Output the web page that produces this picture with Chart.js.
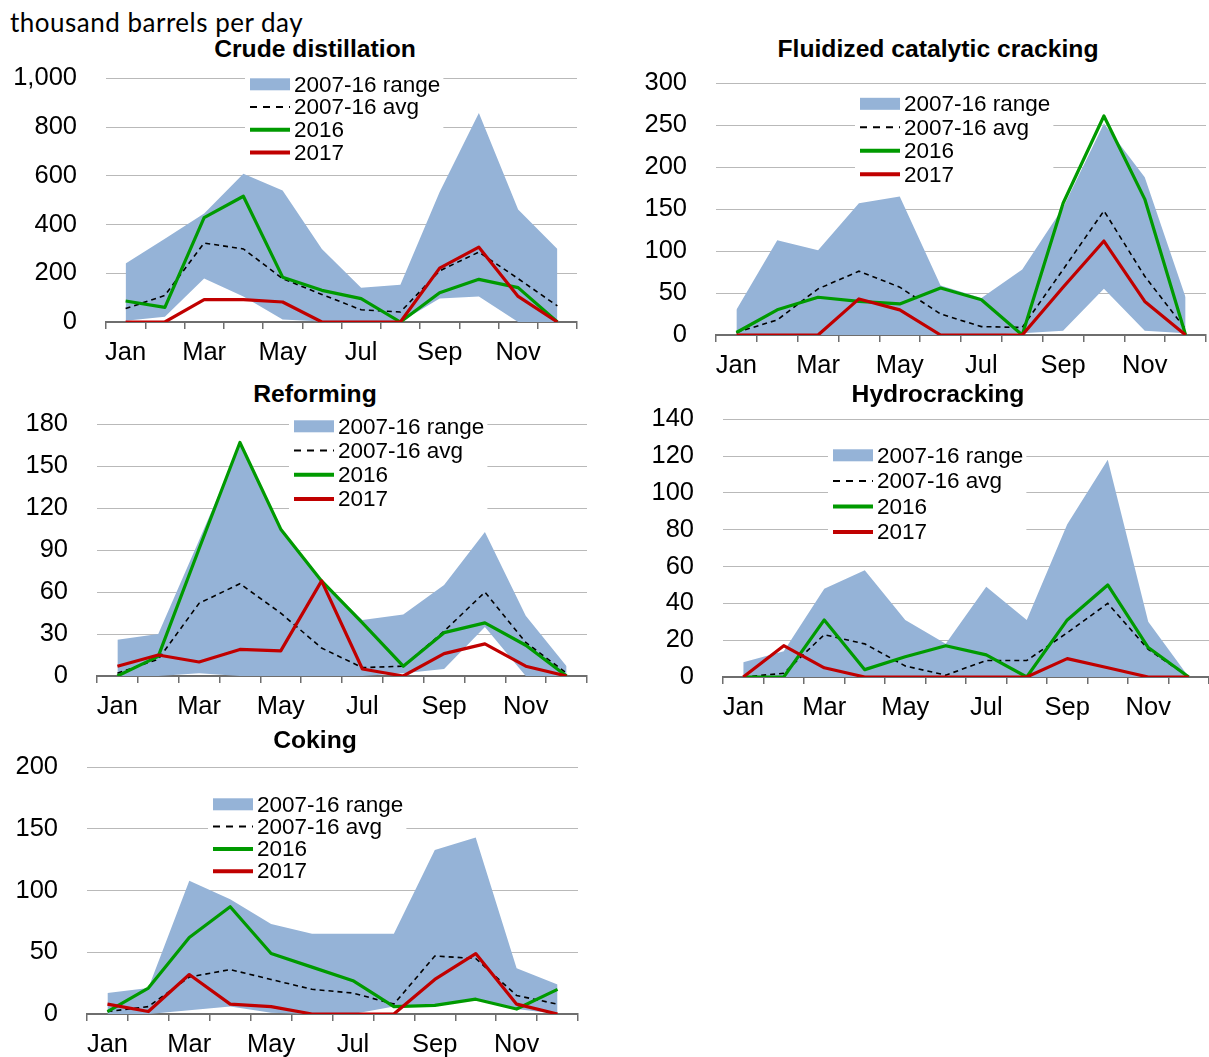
<!DOCTYPE html>
<html>
<head>
<meta charset="utf-8">
<title>Refinery outages</title>
<script src="https://cdn.jsdelivr.net/npm/chart.js@4.4.1/dist/chart.umd.min.js"></script>
<style>
  html, body { margin: 0; padding: 0; background: #fff; overflow: hidden; }
  #page { position: relative; width: 1209px; height: 1057px; overflow: hidden; }
  .unit { position: absolute; left: 10px; top: 6px; font-family: Lato, 'Open Sans', sans-serif; font-size: 26px; letter-spacing: 0.5px; color: #000; white-space: nowrap; line-height: 32px; }
  .title { position: absolute; font-family: 'Liberation Sans', Arial, sans-serif; font-weight: bold; font-size: 24.7px; color: #000; white-space: nowrap; transform: translate(-50%, -50%); line-height: 1; }
  .panel { position: absolute; }
  .panel canvas { display: block; }
</style>
</head>
<body>
<div id="page">
  <div class="unit">thousand barrels per day</div>
</div>
<script>
// Month categories and the visible tick labels
const months = ['Jan', 'Feb', 'Mar', 'Apr', 'May', 'Jun', 'Jul', 'Aug', 'Sep', 'Oct', 'Nov', 'Dec'];
const legendLabels = ['2007-16 range', '2007-16 avg', '2016', '2017'];

// Crude distillation
const crudeLow  = [5, 22, 178, 105, 10, 2, 0, 0, 96, 105, 0, 0];
const crudeHigh = [240, 342, 445, 608, 540, 300, 141, 153, 533, 858, 462, 300];
const crudeAvg  = [55, 109, 324, 300, 178, 113, 50, 41, 210, 287, 178, 66];
const crude2016 = [86, 60, 428, 516, 184, 130, 96, 0, 120, 175, 141, 0];
const crude2017 = [0, 0, 92, 92, 82, 0, 0, 0, 221, 307, 105, 0];
const crudeTicks = [0, 200, 400, 600, 800, 1000];

// Fluidized catalytic cracking
const fccLow  = [0, 0, 0, 0, 0, 0, 0, 2, 5, 55, 5, 2];
const fccHigh = [30, 113, 101, 157, 165, 59, 44, 78, 152, 252, 188, 45];
const fccAvg  = [3, 18, 55, 76, 57, 25, 10, 9, 78, 148, 70, 7];
const fcc2016 = [3, 30, 45, 40, 37, 56, 42, 0, 157, 261, 162, 0];
const fcc2017 = [0, 0, 0, 43, 30, 0, 0, 0, 57, 112, 40, 0];
const fccTicks = [0, 50, 100, 150, 200, 250, 300];

// Reforming
const refLow  = [0, 0, 2, 0, 0, 0, 0, 2, 5, 35, 0, 0];
const refHigh = [26, 30, 97, 165, 105, 68, 40, 44, 65, 103, 43, 7];
const refAvg  = [2, 12, 52, 66, 45, 20, 6, 7, 32, 60, 24, 2];
const ref2016 = [0, 14, 91, 167, 105, 68, 38, 7, 31, 38, 22, 0];
const ref2017 = [7, 15, 10, 19, 18, 68, 5, 0, 16, 23, 7, 0];
const refTicks = [0, 30, 60, 90, 120, 150, 180];

// Hydrocracking
const hydLow  = [0, 0, 0, 0, 0, 0, 0, 0, 0, 0, 0, 0];
const hydHigh = [8, 14, 48, 58, 31, 18, 49, 31, 83, 118, 30, 0];
const hydAvg  = [0, 2, 23, 18, 6, 1, 9, 9, 24, 40, 15, 0];
const hyd2016 = [0, 0, 31, 4, 11, 17, 12, 0, 31, 50, 16, 0];
const hyd2017 = [0, 17, 5, 0, 0, 0, 0, 0, 10, 5, 0, 0];
const hydTicks = [0, 20, 40, 60, 80, 100, 120, 140];

// Coking
const cokLow  = [0, 0, 3, 6, 1, 0, 0, 6, 7, 12, 4, 0];
const cokHigh = [17, 21, 108, 93, 73, 65, 65, 65, 133, 143, 37, 24];
const cokAvg  = [2, 6, 30, 36, 28, 20, 17, 8, 47, 45, 15, 8];
const cok2016 = [2, 21, 62, 87, 49, 38, 27, 6, 7, 12, 4, 20];
const cok2017 = [8, 2, 32, 8, 6, 0, 0, 0, 28, 49, 8, 0];
const cokTicks = [0, 50, 100, 150, 200];

const FONT = "'Liberation Sans', Arial, Helvetica, sans-serif";
const BAND = '#95B3D7';
const GREEN = '#009A00';
const RED = '#C00000';
const GRID = '#B9B9B9';
const AXIS = '#6E6E6E';
const TICK_SIZE = 25.5;
const LEGEND_SIZE = 22.5;

Chart.defaults.font.family = FONT;
Chart.defaults.color = '#000';
Chart.defaults.animation = false;

// Legend drawn inside the plot on a white box (covers the gridlines behind it)
const boxLegend = {
  id: 'boxLegend',
  beforeDatasetsDraw(chart, args, o) {
    const ctx = chart.ctx;
    const area = chart.chartArea;
    const x0 = area.left + o.dx;
    const y0 = area.top + o.dy;
    const items = chart.data.datasets.filter(d => d.label);
    ctx.save();
    ctx.font = o.size + 'px ' + FONT;
    const textX = x0 + o.swatchW + o.gap;
    let maxW = 0;
    items.forEach(d => { maxW = Math.max(maxW, ctx.measureText(d.label).width); });
    const top = y0 - o.step / 2 - 2;
    const bottom = y0 + o.step * (items.length - 0.5) + 3;
    ctx.fillStyle = '#fff';
    ctx.fillRect(x0 - 5, top, textX + maxW + 3 - (x0 - 5), bottom - top);
    items.forEach((d, i) => {
      const cy = y0 + i * o.step;
      if (d.fill) {
        ctx.fillStyle = d.backgroundColor;
        ctx.fillRect(x0, cy - 6, o.swatchW, 12);
      } else {
        ctx.strokeStyle = d.borderColor;
        ctx.lineWidth = d.borderDash ? 2 : 4;
        ctx.setLineDash(d.borderDash ? [7, 6] : []);
        ctx.beginPath();
        ctx.moveTo(x0, cy);
        ctx.lineTo(x0 + o.swatchW, cy);
        ctx.stroke();
        ctx.setLineDash([]);
      }
      ctx.fillStyle = '#000';
      ctx.textAlign = 'left';
      ctx.textBaseline = 'middle';
      ctx.fillText(d.label, textX, cy + 1);
    });
    ctx.restore();
  }
};

function makePanel(p) {
  const yW = 100, xH = 52, padT = 18, padR = 3;
  const plotW = p.right - p.left;
  const plotH = p.bottom - p.top;
  const W = yW + plotW + padR;
  const H = padT + plotH + xH;

  const page = document.getElementById('page');
  const t = document.createElement('div');
  t.className = 'title';
  t.textContent = p.title;
  t.style.left = p.titleX + 'px';
  t.style.top = p.titleY + 'px';
  page.appendChild(t);

  const wrap = document.createElement('div');
  wrap.className = 'panel';
  const cv = document.createElement('canvas');
  cv.width = W; cv.height = H;
  wrap.appendChild(cv);
  page.appendChild(wrap);

  const yMax = p.ticks[p.ticks.length - 1];
  const step = p.ticks[1] - p.ticks[0];

  const chart = new Chart(cv, {
    type: 'line',
    data: {
      labels: months,
      datasets: [
        { data: p.low, borderWidth: 0, borderColor: 'rgba(0,0,0,0)', pointRadius: 0, fill: false, order: 5 },
        { label: legendLabels[0], data: p.high, borderWidth: 0, borderColor: 'rgba(0,0,0,0)', backgroundColor: BAND, pointRadius: 0, fill: '-1', order: 4 },
        { label: legendLabels[1], data: p.avg, borderColor: '#000', borderWidth: 1.6, borderDash: [5, 4], pointRadius: 0, fill: false, order: 3 },
        { label: legendLabels[2], data: p.y2016, borderColor: GREEN, borderWidth: 3.2, borderJoinStyle: 'round', pointRadius: 0, fill: false, order: 2 },
        { label: legendLabels[3], data: p.y2017, borderColor: RED, borderWidth: 3.2, borderJoinStyle: 'round', pointRadius: 0, fill: false, order: 1 }
      ]
    },
    options: {
      responsive: false,
      maintainAspectRatio: false,
      devicePixelRatio: 1,
      events: [],
      layout: { padding: { top: padT, right: padR, left: 0, bottom: 0 } },
      elements: { line: { tension: 0 } },
      plugins: {
        legend: { display: false },
        tooltip: { enabled: false },
        boxLegend: { dx: p.legX - p.left, dy: p.legY - p.top, step: p.legStep, swatchW: 40, gap: 4, size: LEGEND_SIZE }
      },
      scales: {
        x: {
          type: 'category',
          offset: true,
          grid: { display: true, drawOnChartArea: false, drawTicks: true, tickLength: 7, offset: true, color: AXIS, lineWidth: 1.5 },
          border: { display: true, color: AXIS, width: 2 },
          ticks: {
            autoSkip: false, maxRotation: 0, padding: 9,
            font: { size: TICK_SIZE }, color: '#000',
            callback: (v, i) => (i % 2 === 0 ? months[i] : '')
          },
          afterFit: s => { s.height = xH; }
        },
        y: {
          min: 0, max: yMax,
          grid: { color: GRID, lineWidth: 1, drawTicks: false },
          border: { display: false },
          ticks: { stepSize: step, padding: 29, font: { size: TICK_SIZE }, color: '#000' },
          afterBuildTicks: s => { s.ticks = p.ticks.map(v => ({ value: v })); },
          afterFit: s => { s.width = yW; }
        }
      }
    },
    plugins: [boxLegend]
  });

  // Size the canvas so the plot area spans exactly the requested box, then place it
  const ca = chart.chartArea;
  const dW = Math.round(plotW - (ca.right - ca.left));
  const dH = Math.round(plotH - (ca.bottom - ca.top));
  if (dW !== 0 || dH !== 0) chart.resize(W + dW, H + dH);
  const ca2 = chart.chartArea;
  wrap.style.left = (p.left - ca2.left) + 'px';
  wrap.style.top = (p.top - ca2.top) + 'px';
}

makePanel({ title: 'Crude distillation', titleX: 315, titleY: 49,
  left: 106, right: 577, top: 78, bottom: 322,
  ticks: crudeTicks, low: crudeLow, high: crudeHigh, avg: crudeAvg, y2016: crude2016, y2017: crude2017,
  legX: 250, legY: 84, legStep: 22.7 });

makePanel({ title: 'Fluidized catalytic cracking', titleX: 938, titleY: 49,
  left: 716, right: 1206, top: 83, bottom: 335,
  ticks: fccTicks, low: fccLow, high: fccHigh, avg: fccAvg, y2016: fcc2016, y2017: fcc2017,
  legX: 860, legY: 103.5, legStep: 23.5 });

makePanel({ title: 'Reforming', titleX: 315, titleY: 394,
  left: 97, right: 587, top: 424, bottom: 676,
  ticks: refTicks, low: refLow, high: refHigh, avg: refAvg, y2016: ref2016, y2017: ref2017,
  legX: 294, legY: 426, legStep: 24.2 });

makePanel({ title: 'Hydrocracking', titleX: 938, titleY: 394,
  left: 723, right: 1209, top: 419, bottom: 677,
  ticks: hydTicks, low: hydLow, high: hydHigh, avg: hydAvg, y2016: hyd2016, y2017: hyd2017,
  legX: 833, legY: 455, legStep: 25.6 });

makePanel({ title: 'Coking', titleX: 315, titleY: 740,
  left: 87, right: 578, top: 767, bottom: 1014,
  ticks: cokTicks, low: cokLow, high: cokHigh, avg: cokAvg, y2016: cok2016, y2017: cok2017,
  legX: 213, legY: 804, legStep: 22.3 });
</script>
</body>
</html>
